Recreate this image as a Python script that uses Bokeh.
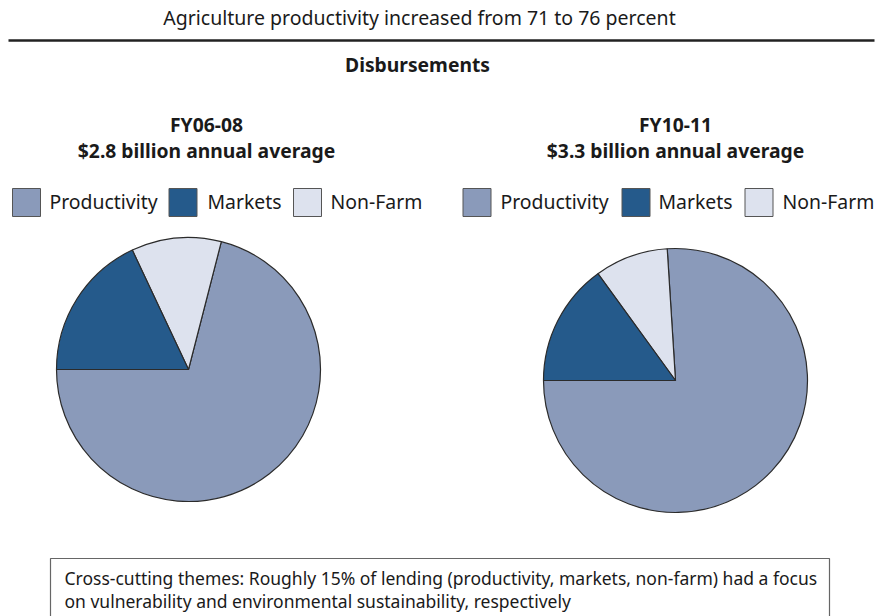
import numpy as np
from bokeh.plotting import figure
from bokeh.models import Range1d, ColumnDataSource
from bokeh.core.properties import value
from bokeh.embed import file_html
from bokeh.resources import INLINE

# ---------------- data ----------------
categories = ["Productivity", "Markets", "Non-Farm"]
fy0608 = [71, 18, 11]
fy1011 = [76, 15, 9]
period_labels = ["FY06-08", "FY10-11"]
period_totals = ["$2.8 billion annual average", "$3.3 billion annual average"]
title_text = "Agriculture productivity increased from 71 to 76 percent"
section_text = "Disbursements"
note_lines = [
    "Cross-cutting themes: Roughly 15% of lending (productivity, markets, non-farm) had a focus",
    "on vulnerability and environmental sustainability, respectively",
]

# ---------------- styles ----------------
colors = {"Productivity": "#8a9aba", "Markets": "#255a8b", "Non-Farm": "#dde2ee"}
FONT = "Noto Sans"
TXT = "#1a1a1a"

W, H = 876, 616
p = figure(width=W, height=H, output_backend="svg", toolbar_location=None,
           x_range=Range1d(0, W), y_range=Range1d(0, H), min_border=0)
p.axis.visible = False
p.grid.visible = False
p.outline_line_color = None
p.background_fill_color = "white"
p.border_fill_color = "white"


def sy(Y):
    return H - Y


def sx(X):
    return X


# title and rule
p.text(x=[sx(419)], y=[sy(17)], text=[title_text], text_font=value(FONT),
       text_font_size="19.5px", text_align="center", text_baseline="middle", text_color=TXT)
p.segment(x0=[sx(8)], y0=[sy(40)], x1=[sx(874)], y1=[sy(40)],
          line_color="#222222", line_width=2.5)
p.text(x=[sx(417)], y=[sy(64)], text=[section_text], text_font=value(FONT),
       text_font_size="19.3px", text_font_style="bold", text_align="center",
       text_baseline="middle", text_color=TXT)

# pies
R = 132
pies = [
    (fy0608, sx(188), sy(369), sx(206)),
    (fy1011, sx(675), sy(380), sx(675)),
]
order = ["Productivity", "Non-Farm", "Markets"]  # anticlockwise from 9 o'clock
legend_layout = [
    [(26, 49), (182.5, 207), (307, 330)],
    [(476.5, 500), (635.5, 658), (758.5, 782)],
]
for k, (vals, cx, cy, tx) in enumerate(pies):
    d = dict(zip(categories, vals))
    tot = sum(vals)
    fracs = np.array([d[c] / tot for c in order])
    ends = np.pi + 2 * np.pi * np.cumsum(fracs)
    starts = np.concatenate([[np.pi], ends[:-1]])
    src = ColumnDataSource(dict(start=starts, end=ends,
                                color=[colors[c] for c in order]))
    p.wedge(x=cx, y=cy, radius=R, start_angle="start", end_angle="end",
            fill_color="color", line_color="#2b2b2b", line_width=1.2, source=src)

    p.text(x=[tx], y=[sy(124)], text=[period_labels[k]], text_font=value(FONT),
           text_font_size="19.3px", text_font_style="bold", text_align="center",
           text_baseline="middle", text_color=TXT)
    p.text(x=[tx], y=[sy(150)], text=[period_totals[k]], text_font=value(FONT),
           text_font_size="19.3px", text_font_style="bold", text_align="center",
           text_baseline="middle", text_color=TXT)

    lx = [sx(a) for a, _ in legend_layout[k]]
    ltx = [sx(b) for _, b in legend_layout[k]]
    p.rect(x=lx, y=[sy(202)] * 3, width=28, height=28,
           fill_color=[colors[c] for c in categories], line_color="#555555", line_width=1)
    p.text(x=ltx, y=[sy(201)] * 3, text=categories, text_font=value(FONT),
           text_font_size="19.4px", text_align="left", text_baseline="middle", text_color=TXT)

# note box
p.quad(left=[sx(50)], right=[sx(829)], top=[sy(558)], bottom=[-10],
       fill_color="white", line_color="#666666", line_width=1.2)
p.text(x=[sx(64)] * 2, y=[sy(577), sy(600)], text=note_lines, text_font=value(FONT),
       text_font_size="17.5px", text_align="left", text_baseline="middle", text_color=TXT)

open("out.html", "w").write(file_html(p, INLINE))
